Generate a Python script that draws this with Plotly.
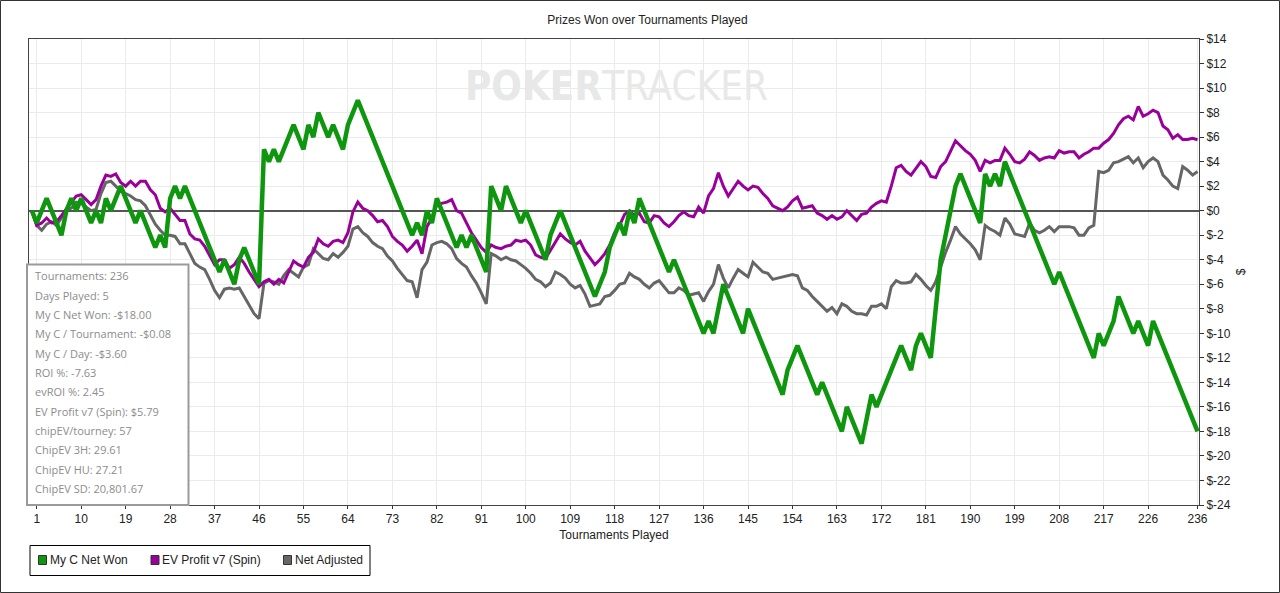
import plotly.graph_objects as go

# --- chart data ---
# tournament index 0 is the starting point, 1..236 are the tournaments played
tournaments = list(range(0, 237))

net_won = [
    0, -1, 0, 1, 0, -1, -2, 0, 1, 0,
    1, 0, -1, 0, -1, 1, 0, 1, 2, 1,
    0, -1, 0, -1, -2, -3, -2, -3, 1, 2,
    1, 2, 1, 0, -1, -2, -3, -4, -5, -4,
    -5, -6, -4, -3, -4, -5, -6, 5, 4, 5,
    4, 5, 6, 7, 6, 5, 7, 6, 8, 7,
    6, 7, 6, 5, 7, 8, 9, 8, 7, 6,
    5, 4, 3, 2, 1, 0, -1, -2, -1, -2,
    0, -1, 1, 0, -1, -2, -3, -2, -3, -2,
    -3, -4, -5, 2, 1, 0, 2, 1, 0, -1,
    0, -1, -2, -3, -4, -2, -1, 0, -1, -2,
    -3, -4, -5, -6, -7, -6, -5, -3, -2, -1,
    -2, 0, -1, 1, 0, -1, -2, -3, -4, -5,
    -4, -5, -6, -7, -8, -9, -10, -9, -10, -8,
    -6, -7, -8, -9, -10, -8, -9, -10, -11, -12,
    -13, -14, -15, -13, -12, -11, -12, -13, -14, -15,
    -14, -15, -16, -17, -18, -16, -17, -18, -19, -17,
    -15, -16, -15, -14, -13, -12, -11, -12, -13, -11,
    -10, -11, -12, -8, -4, -2, 0, 2, 3, 2,
    1, 0, -1, 3, 2, 3, 2, 4, 3, 2,
    1, 0, -1, -2, -3, -4, -5, -6, -5, -6,
    -7, -8, -9, -10, -11, -12, -10, -11, -10, -9,
    -7, -8, -9, -10, -9, -10, -11, -9, -10, -11,
    -12, -13, -14, -15, -16, -17, -18,
]

ev_profit = [
    0, -1.2, -1.0, -0.6, -1.0, -0.9, -0.4, 0.2, 0.7, 1.2,
    1.3, 0.9, 0.5, 0.9, 2.0, 2.9, 2.8, 3.0, 2.3, 2.0,
    2.4, 2.0, 2.4, 2.4, 1.7, 1.3, 0.2, -0.1, 0.2, -0.3,
    -0.8, -0.8, -1.9, -2.3, -2.4, -2.9, -3.7, -4.4, -4.0, -4.0,
    -4.7, -4.4, -3.8, -4.3, -5.0, -5.6, -6.2, -5.8, -5.6, -6.0,
    -5.6, -5.9, -5.0, -4.1, -4.4, -4.6, -3.8, -3.4, -2.3, -2.7,
    -2.9, -2.5, -2.4, -2.6, -1.8, -0.1, 0.7, 0.2, 0.0, -0.4,
    -0.9, -0.8, -1.3, -2.1, -2.5, -2.8, -3.3, -2.9, -2.4, -3.5,
    -1.3, -0.6, 0.5, 0.6, 0.7, 0.9, 0.0, -0.2, -1.0, -1.8,
    -2.4, -3.0, -3.4, -2.8, -3.0, -3.1, -2.9, -2.8, -2.4, -2.5,
    -2.4, -2.8, -3.6, -3.8, -3.9, -3.2, -2.5, -1.9, -2.3, -2.6,
    -2.8, -2.5, -3.3, -3.9, -4.4, -4.0, -3.5, -2.8, -1.8, -1.2,
    -0.3, 0.0, -0.4, -0.2, -0.9, -1.0, -0.4, -0.5, -1.0, -1.3,
    -0.9, -0.4, -0.1, -0.4, -0.5, 0.3, -0.2, 1.2, 1.8, 3.1,
    2.0, 1.2, 1.8, 2.4, 2.0, 1.7, 2.0, 1.9, 1.4, 1.0,
    0.4, 0.2, 0.0, 0.3, 0.8, 1.1, 0.2, 0.3, 0.4, -0.2,
    -0.4, -0.7, -0.4, -0.7, -0.5, 0.0, -0.4, -0.8, -0.3, -0.2,
    0.3, 0.6, 0.8, 0.7, 2.0, 3.5, 3.7, 3.2, 2.9, 3.5,
    4.0, 3.6, 2.8, 2.7, 3.6, 4.0, 4.8, 5.7, 5.3, 4.9,
    4.6, 4.1, 3.2, 4.1, 3.9, 4.1, 4.1, 5.1, 4.6, 4.0,
    3.9, 4.2, 4.8, 4.5, 4.1, 4.3, 4.4, 4.3, 4.9, 4.7,
    4.8, 4.8, 4.3, 4.6, 4.8, 5.1, 5.1, 5.5, 5.8, 6.3,
    7.0, 7.5, 7.7, 7.4, 8.5, 7.7, 7.9, 8.2, 8.0, 6.9,
    6.6, 5.9, 6.2, 5.8, 5.8, 5.9, 5.79,
]

net_adjusted = [
    0, -1.2, -1.6, -1.1, -0.9, -1.2, -0.6, 0.1, 0.2, 0.7,
    0.6, 0.3, 0.0, 0.1, 1.4, 2.3, 2.4, 2.0, 1.6, 1.4,
    1.2, 0.9, 0.8, 0.4, -0.4, -1.1, -1.6, -2.0, -2.0, -2.1,
    -2.7, -2.7, -3.5, -4.3, -4.6, -4.8, -5.6, -6.5, -7.1, -6.4,
    -6.3, -6.4, -6.3, -7.0, -7.8, -8.4, -8.8, -5.9, -5.7, -5.8,
    -6.0, -5.3, -4.8, -5.1, -5.4, -4.6, -4.4, -3.1, -3.5, -3.9,
    -4.0, -3.5, -3.8, -3.4, -2.9, -1.5, -1.3, -1.8, -2.1, -2.6,
    -2.9, -3.1, -3.7, -4.1, -4.7, -5.2, -5.7, -5.8, -7.1, -4.8,
    -4.2, -2.8, -2.6, -2.5, -2.7, -3.1, -3.9, -4.3, -4.6, -5.3,
    -5.9, -6.7, -7.6, -3.5, -3.7, -4.0, -3.8, -4.0, -4.1, -4.4,
    -4.7, -5.1, -5.6, -5.8, -6.2, -5.9, -5.0, -5.2, -5.5, -6.0,
    -6.3, -6.1, -6.8, -7.8, -7.7, -7.6, -7.0, -6.9, -6.5, -6.0,
    -5.9, -5.1, -5.4, -5.6, -6.0, -6.3, -5.9, -5.7, -6.2, -6.7,
    -6.7, -6.3, -6.5, -6.9, -6.8, -6.7, -7.4, -6.6, -6.0, -4.4,
    -5.5, -6.3, -5.5, -4.8, -5.1, -5.4, -4.2, -4.6, -5.0, -5.1,
    -5.6, -5.5, -5.4, -5.3, -5.2, -5.3, -6.3, -6.5, -7.0, -7.4,
    -7.8, -8.2, -7.9, -8.4, -7.6, -7.8, -8.2, -8.4, -8.4, -8.5,
    -7.8, -7.8, -7.6, -8.0, -6.2, -5.7, -5.9, -5.9, -5.8, -5.2,
    -5.6, -6.1, -6.5, -5.8, -4.6, -3.4, -2.4, -1.3, -1.9, -2.3,
    -2.7, -3.2, -4.0, -1.2, -1.5, -1.7, -2.0, -0.6, -1.1, -1.9,
    -2.0, -2.1, -1.0, -1.6, -1.8, -1.6, -1.3, -1.7, -1.3, -1.3,
    -1.3, -1.4, -2.0, -2.0, -1.4, -1.2, 3.2, 3.1, 3.3, 3.9,
    4.0, 4.2, 4.4, 3.9, 4.3, 3.5, 4.0, 4.3, 4.0, 2.9,
    2.5, 2.0, 1.8, 3.6, 3.3, 2.9, 3.2,
]

x_ticks = [1, 10, 19, 28, 37, 46, 55, 64, 73, 82, 91, 100, 109, 118, 127,
           136, 145, 154, 163, 172, 181, 190, 199, 208, 217, 226, 236]
y_ticks = list(range(-24, 16, 2))

stats_lines = [
    "Tournaments: 236",
    "Days Played: 5",
    "My C Net Won: -$18.00",
    "My C / Tournament: -$0.08",
    "My C / Day: -$3.60",
    "ROI %: -7.63",
    "evROI %: 2.45",
    "EV Profit v7 (Spin): $5.79",
    "chipEV/tourney: 57",
    "ChipEV 3H: 29.61",
    "ChipEV HU: 27.21",
    "ChipEV SD: 20,801.67",
]

series = [
    ("Net Adjusted", net_adjusted, "#666666", 3),
    ("EV Profit v7 (Spin)", ev_profit, "#990099", 3),
    ("My C Net Won", net_won, "#0f960f", 4.5),
]
# legend entries: name, swatch left edge (px) as in the original box
legend_items = [("My C Net Won", 38.5), ("EV Profit v7 (Spin)", 151), ("Net Adjusted", 283.5)]

# -------------------------
W, H = 1280, 593
M_L, M_R, M_T, M_B = 29, 81, 39, 88
PLOT_H = H - M_T - M_B


def py(y_px):
    """pixel row -> paper y"""
    return (H - M_B - y_px) / PLOT_H


def px(x_px):
    """pixel column -> paper x"""
    return (x_px - M_L) / (W - M_L - M_R)


fig = go.Figure()

# lines (green drawn last so it sits on top)
for name, values, color, width in series:
    fig.add_trace(go.Scatter(x=tournaments, y=values, name=name, mode="lines",
                             line=dict(color=color, width=width)))

# legend box drawn by hand so it looks like the PokerTracker one (square swatches)
colors = {name: color for name, _, color, _ in series}
fig.add_shape(type="rect", xref="paper", yref="paper",
              x0=px(30), x1=px(370), y0=py(575.5), y1=py(545.5),
              line=dict(color="#000000", width=1), fillcolor="white")
for name, left in legend_items:
    fig.add_shape(type="rect", xref="paper", yref="paper",
                  x0=px(left), x1=px(left + 8), y0=py(564.5), y1=py(555.5),
                  line=dict(color="#333333", width=1), fillcolor=colors[name])
    fig.add_annotation(text=name, xref="paper", yref="paper",
                       x=px(left + 9), y=py(560), xanchor="left", yanchor="middle",
                       showarrow=False,
                       font=dict(family="Liberation Sans, Arial, sans-serif", size=12, color="#222222"))

# stats box
fig.add_shape(type="rect", xref="paper", yref="paper",
              x0=px(27), x1=px(188.5), y0=py(505), y1=py(264.5),
              line=dict(color="#9a9a9a", width=2), fillcolor="white", layer="above")
for i, line in enumerate(stats_lines):
    fig.add_annotation(text=line, xref="paper", yref="paper",
                       x=px(33), y=py(275.7 + i * 19.33), xanchor="left", yanchor="middle",
                       showarrow=False,
                       font=dict(family="Open Sans, Noto Sans, sans-serif", size=11, color="#8c8c8c"))

# watermark
fig.add_annotation(text="<b>POKER</b>TRACKER", xref="paper", yref="paper",
                   x=px(616), y=py(86), xanchor="center", yanchor="middle", showarrow=False,
                   font=dict(family="Liberation Sans Narrow, DejaVu Sans Condensed, sans-serif",
                             size=40, color="#e8e8e8"))

# outer frame of the picture
fig.add_shape(type="rect", xref="paper", yref="paper",
              x0=px(0.5), x1=px(W - 0.5), y0=py(H - 0.5), y1=py(0.5),
              line=dict(color="#333333", width=1), layer="above")

axis_font = dict(family="Liberation Sans, Arial, sans-serif", size=12, color="#222222")

fig.update_layout(
    width=W, height=H,
    margin=dict(l=M_L, r=M_R, t=M_T, b=M_B),
    paper_bgcolor="white", plot_bgcolor="white",
    showlegend=False,
    title=dict(text="Prizes Won over Tournaments Played", x=647.5 / W, y=1 - 20 / H,
               xanchor="center", yanchor="middle", font=axis_font),
    xaxis=dict(
        range=[-0.57, 236.3],
        tickvals=x_ticks, ticktext=[str(t) for t in x_ticks],
        tickfont=axis_font, ticks="outside", ticklen=3, tickcolor="#333333",
        showgrid=True, gridcolor="#ebebeb", gridwidth=1, zeroline=False,
        showline=True, linecolor="#444444", linewidth=1, mirror=True,
        title=dict(text="Tournaments Played", font=axis_font, standoff=5),
    ),
    yaxis=dict(
        range=[-24, 14], side="right",
        tickvals=y_ticks, ticktext=[f"${v}" for v in y_ticks],
        tickfont=axis_font, ticks="outside", ticklen=4, tickcolor="#333333",
        showgrid=True, gridcolor="#ebebeb", gridwidth=1,
        zeroline=True, zerolinecolor="#555555", zerolinewidth=2,
        showline=True, linecolor="#444444", linewidth=1, mirror=True,
        title=dict(text="$", font=axis_font, standoff=6),
    ),
)

# the browser adds an 8px body margin by default; drop it so the figure fills the window
fig.write_html("out.html", config={"displayModeBar": False},
               post_script="document.body.style.margin = '0';")
